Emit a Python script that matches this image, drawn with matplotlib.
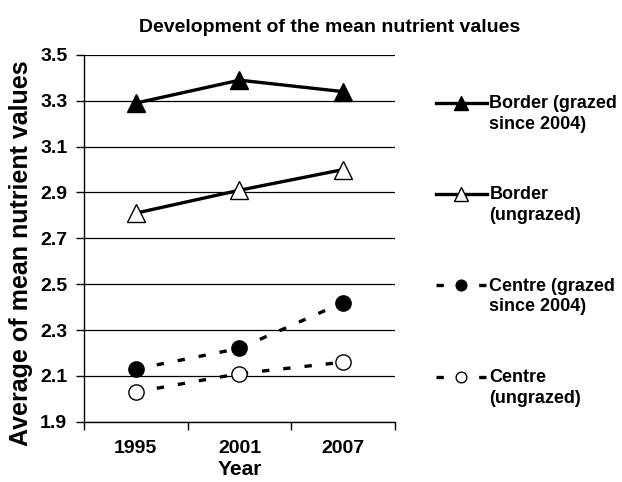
import numpy as np
import matplotlib
matplotlib.use('Agg')
import matplotlib.pyplot as plt
from matplotlib.legend_handler import HandlerLine2D

plt.rcParams['font.family'] = ['Liberation Sans', 'DejaVu Sans']
plt.rcParams['font.weight'] = 'bold'

years = ['1995', '2001', '2007']
border_grazed = [3.29, 3.39, 3.34]
border_ungrazed = [2.81, 2.91, 3.00]
centre_grazed = [2.13, 2.22, 2.42]
centre_ungrazed = [2.03, 2.11, 2.16]
labels = ['Border (grazed\nsince 2004)', 'Border\n(ungrazed)',
          'Centre (grazed\nsince 2004)', 'Centre\n(ungrazed)']
yticks = [1.9, 2.1, 2.3, 2.5, 2.7, 2.9, 3.1, 3.3, 3.5]


class UpHandler(HandlerLine2D):
    # put the legend symbol on the first line of a two line label
    def create_artists(self, legend, orig_handle, xdescent, ydescent,
                       width, height, fontsize, trans):
        arts = super().create_artists(legend, orig_handle, xdescent, ydescent,
                                      width, height, fontsize, trans)
        for a in arts:
            a.set_ydata(np.asarray(a.get_ydata()) + 0.62 * fontsize)
        return arts


fig = plt.figure(figsize=(6.22, 4.82), dpi=100)
ax = fig.add_axes([0.135, 0.125, 0.5, 0.761])
x = np.arange(len(years))

lw = 2.4
l1, = ax.plot(x, border_grazed, '-', color='black', lw=lw, marker='^',
              ms=13.5, mfc='black', mec='black', zorder=3)
l2, = ax.plot(x, border_ungrazed, '-', color='black', lw=lw, marker='^',
              ms=13.5, mfc='white', mec='black', mew=1, zorder=3)
l3, = ax.plot(x, centre_grazed, color='black', lw=lw, ls=(0, (2.2, 4.2)),
              marker='o', ms=11, mfc='black', mec='black', zorder=3)
l4, = ax.plot(x, centre_ungrazed, color='black', lw=lw, ls=(0, (2.2, 4.2)),
              marker='o', ms=11, mfc='white', mec='black', mew=1, zorder=3)

ax.set_xlim(-0.5, 2.5)
ax.set_ylim(1.9, 3.5)
ax.set_yticks(yticks)
ax.set_yticklabels(['%.1f' % v for v in yticks], fontsize=14, fontweight='bold')
ax.set_xticks([-0.5, 0.5, 1.5, 2.5])
ax.set_xticklabels([])
ax.set_xticks(x, minor=True)
ax.set_xticklabels(years, minor=True, fontsize=14, fontweight='bold')
ax.tick_params(axis='x', which='minor', length=0, pad=13)
ax.tick_params(axis='x', which='major', length=6, width=1, direction='out')
ax.tick_params(axis='y', length=6, width=1, direction='out', pad=6)
for s in ['top', 'right']:
    ax.spines[s].set_visible(False)
ax.spines['left'].set_linewidth(1)
ax.spines['bottom'].set_linewidth(1)
ax.grid(axis='y', color='black', lw=0.9)
ax.set_axisbelow(True)

ax.set_xlabel('Year', fontsize=15, fontweight='bold', labelpad=2)
ax.set_ylabel('Average of mean nutrient values', fontsize=18, fontweight='bold')
ax.yaxis.set_label_coords(-0.163, 0.46)
fig.text(0.53, 0.943, 'Development of the mean nutrient values', ha='center',
         va='center', fontsize=14, fontweight='bold')

leg = fig.legend([l1, l2, l3, l4], labels, loc='upper left',
                 bbox_to_anchor=(0.701, 0.8025), frameon=False, fontsize=13,
                 handlelength=2.8, handletextpad=0.15, labelspacing=2.95,
                 markerscale=0.7, borderpad=0, borderaxespad=0,
                 handler_map={l1: UpHandler(), l2: UpHandler(),
                              l3: UpHandler(), l4: UpHandler()})
for t in leg.get_texts():
    t.set_fontweight('bold')
    t.set_linespacing(1.3)

fig.savefig('out.png', dpi=100)
